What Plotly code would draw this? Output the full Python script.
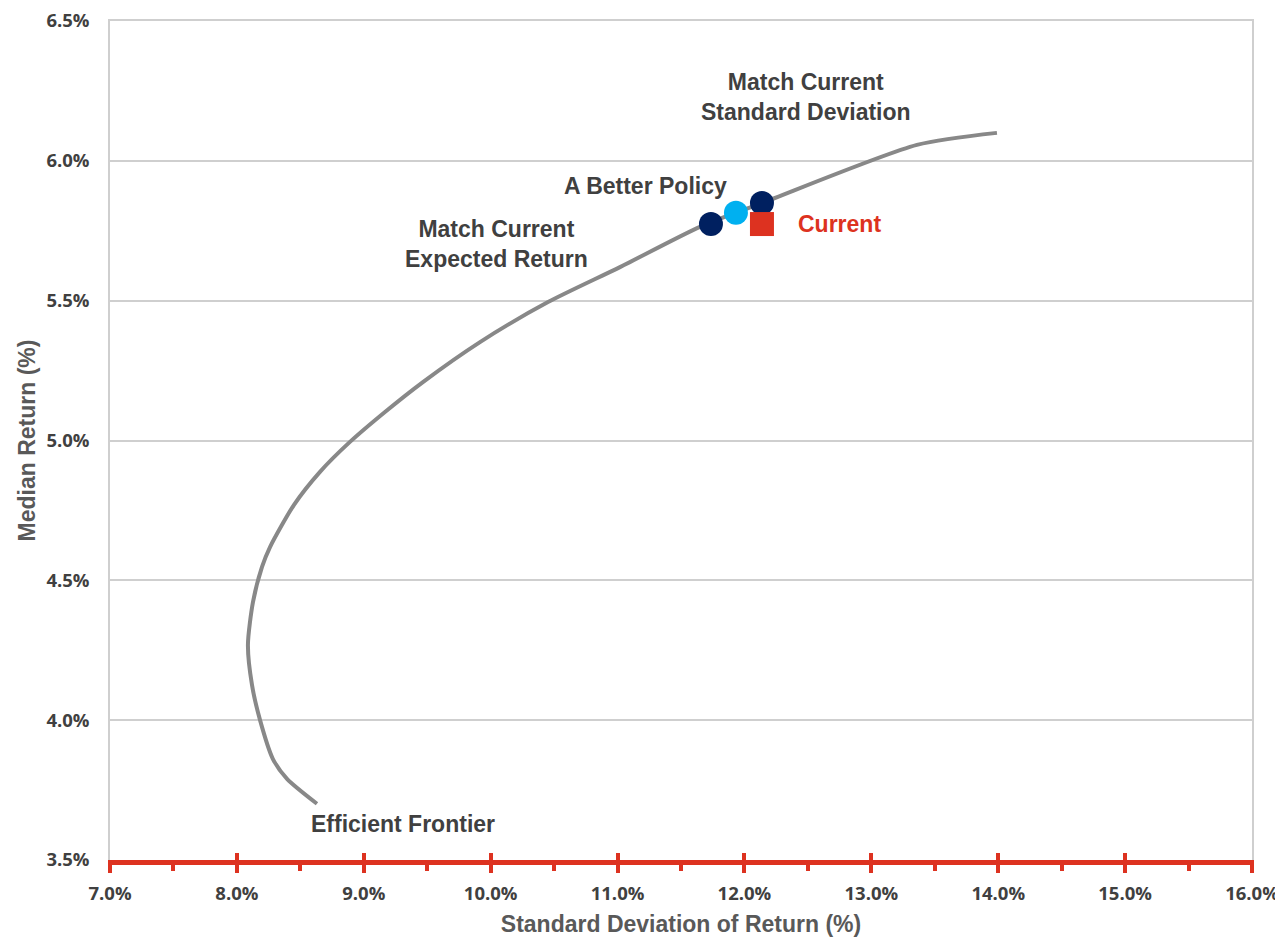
import plotly.graph_objects as go

# Efficient frontier (std dev %, median return %)
frontier_sd = [8.631, 8.395, 8.284, 8.182, 8.119, 8.087, 8.127, 8.198, 8.261, 8.450, 8.655,
               8.891, 9.167, 9.466, 9.916, 10.452, 11.019, 11.649, 12.138, 13.359, 13.990]
frontier_ret = [3.701, 3.790, 3.861, 4.001, 4.126, 4.269, 4.423, 4.548, 4.619, 4.770, 4.888,
                4.995, 5.102, 5.209, 5.352, 5.495, 5.620, 5.764, 5.849, 6.057, 6.100]

# Portfolios
match_sd = [11.736, 12.138]
match_ret = [5.774, 5.849]
better_sd = [11.933]
better_ret = [5.814]
current_sd = [12.138]
current_ret = [5.774]

x_ticks = [7, 8, 9, 10, 11, 12, 13, 14, 15, 16]
x_labels = [f"{v:.1f}%" for v in x_ticks]
y_ticks = [3.5, 4.0, 4.5, 5.0, 5.5, 6.0, 6.5]
y_labels = [f"{v:.1f}%" for v in y_ticks]

RED = "#DD3220"
NAVY = "#002060"
LBLUE = "#00B0F0"
TXT = "#404040"
GRID = "#CFCFCF"

fig = go.Figure()
fig.add_trace(go.Scatter(x=frontier_sd, y=frontier_ret, mode="lines",
                         line=dict(color="#888888", width=4, shape="spline", smoothing=0.7),
                         hoverinfo="skip", showlegend=False))
fig.add_trace(go.Scatter(x=match_sd, y=match_ret, mode="markers",
                         marker=dict(color=NAVY, size=24, symbol="circle"), showlegend=False))
fig.add_trace(go.Scatter(x=better_sd, y=better_ret, mode="markers",
                         marker=dict(color=LBLUE, size=24, symbol="circle"), showlegend=False))
fig.add_trace(go.Scatter(x=current_sd, y=current_ret, mode="markers",
                         marker=dict(color=RED, size=24, symbol="square"), showlegend=False))
# helper traces for secondary x axes (inward ticks at bottom, frame line at top)
fig.add_trace(go.Scatter(x=[x_ticks[0]], y=[y_ticks[0]], xaxis="x2", mode="markers",
                         marker=dict(opacity=0), hoverinfo="skip", showlegend=False))
fig.add_trace(go.Scatter(x=[x_ticks[0]], y=[y_ticks[0]], xaxis="x3", mode="markers",
                         marker=dict(opacity=0), hoverinfo="skip", showlegend=False))

ann_font = dict(family="Liberation Sans, Arial", size=23, color=TXT, weight="bold")
fig.add_annotation(x=match_sd[1] + 0.347, y=match_ret[1] + 0.379, text="Match Current<br>Standard Deviation",
                   showarrow=False, font=ann_font, align="center", yanchor="middle", xanchor="center")
fig.add_annotation(x=better_sd[0] - 0.709, y=better_ret[0] + 0.096, text="A Better Policy",
                   showarrow=False, font=ann_font, align="center", xanchor="center", yanchor="middle")
fig.add_annotation(x=match_sd[0] - 1.694, y=match_ret[0] - 0.071, text="Match Current<br>Expected Return",
                   showarrow=False, font=ann_font, align="center", xanchor="center", yanchor="middle")
fig.add_annotation(x=current_sd[0] + 0.268, y=current_ret[0], text="Current",
                   showarrow=False, font=dict(family="Liberation Sans, Arial", size=23, color=RED, weight="bold"),
                   xanchor="left", yanchor="middle")
fig.add_annotation(x=frontier_sd[0] - 0.063, y=frontier_ret[0] - 0.072, text="Efficient Frontier",
                   showarrow=False, font=ann_font, xanchor="left", yanchor="middle")

tick_font = dict(family="Open Sans", size=18.5, color=TXT, weight="bold")
title_font = dict(family="Liberation Sans, Arial", size=23, color="#595959", weight="bold")

# page body adds an 8px offset; figure is sized so the plot area lands where the reference has it
fig.update_layout(
    width=1275, height=930,
    margin=dict(l=102, r=31, t=13, b=78),
    plot_bgcolor="white", paper_bgcolor="white",
    xaxis=dict(range=[7, 16], tickvals=x_ticks, ticktext=x_labels, tickfont=tick_font,
               showgrid=False, zeroline=False, automargin=False, ticklabeloverflow="allow",
               showline=True, linecolor=RED, linewidth=5,
               ticks="outside", ticklen=8, tickwidth=4, tickcolor=RED,
               minor=dict(dtick=0.5, ticks="outside", ticklen=6, tickwidth=4, tickcolor=RED),
               ticklabelstandoff=5,
               title=dict(text="Standard Deviation of Return (%)", font=title_font, standoff=13)),
    xaxis2=dict(range=[7, 16], overlaying="x", side="bottom", anchor="y", automargin=False,
                tickvals=x_ticks, showticklabels=False, showgrid=False, zeroline=False,
                ticks="inside", ticklen=7, tickwidth=4, tickcolor=RED, showline=False),
    xaxis3=dict(range=[7, 16], overlaying="x", side="top", anchor="y", automargin=False,
                showticklabels=False, showgrid=False, zeroline=False, ticks="",
                showline=True, linecolor=GRID, linewidth=1.5),
    yaxis=dict(range=[3.5, 6.5], tickvals=y_ticks, ticktext=y_labels, tickfont=tick_font,
               showgrid=True, gridcolor=GRID, gridwidth=1.5, zeroline=False, automargin=False,
               ticklabeloverflow="allow",
               showline=True, linecolor=GRID, linewidth=1.5, mirror=True,
               ticks="", ticklabelstandoff=15,
               title=dict(text="Median Return (%)", font=title_font, standoff=4)),
)

fig.write_html("out.html")
